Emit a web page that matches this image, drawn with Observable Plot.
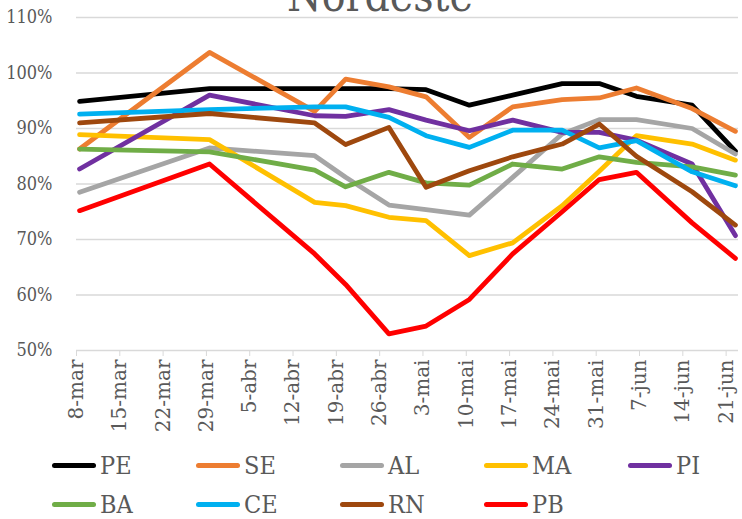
<!DOCTYPE html>
<html><head><meta charset="utf-8">
<script src="https://cdn.jsdelivr.net/npm/d3@7"></script>
<script src="https://cdn.jsdelivr.net/npm/@observablehq/plot@0.6"></script>
<style>
body{margin:0;background:#fff;}
#wrap{position:relative;width:742px;height:519px;overflow:hidden;font-family:"DejaVu Serif Condensed","DejaVu Serif",serif;color:#595959;}
#chart{position:absolute;left:0;top:0;}
#titlesvg{position:absolute;left:0;top:0;}
#legend{position:absolute;left:0;top:446px;width:742px;}
.item{position:absolute;display:flex;align-items:center;height:38px;font-size:25px;color:#595959;}
.sw{width:44px;height:5px;border-radius:3px;margin-right:4px;}
</style></head>
<body>
<div id="wrap">
  <div id="chart"></div>
  <svg id="titlesvg" width="742" height="30"><text x="380" y="11" text-anchor="middle" font-size="44" fill="#595959" font-family="DejaVu Serif Condensed, DejaVu Serif, serif">Nordeste</text></svg>
  <div id="legend"></div>
</div>
<script>
// ---- data ----
const dates = ["2020-03-08","2020-03-29","2020-04-15","2020-04-20","2020-04-27","2020-05-03","2020-05-10","2020-05-17","2020-05-25","2020-05-31","2020-06-06","2020-06-15","2020-06-22"];
const PE = [94.9, 97.2, 97.2, 97.2, 97.2, 97.0, 94.2, 96.0, 98.1, 98.1, 95.8, 94.2, 85.9];
const SE = [86.3, 103.7, 93.1, 98.9, 97.5, 95.7, 88.4, 93.9, 95.2, 95.5, 97.3, 93.6, 89.5];
const AL = [78.5, 86.5, 85.1, 81.2, 76.2, 75.4, 74.4, 81.2, 89.0, 91.6, 91.6, 90.0, 85.4];
const MA = [88.9, 88.0, 76.7, 76.1, 74.0, 73.4, 67.1, 69.4, 76.1, 82.3, 88.7, 87.2, 84.3];
const PI = [82.7, 96.0, 92.3, 92.2, 93.4, 91.5, 89.6, 91.5, 89.3, 89.3, 87.9, 83.6, 70.7];
const BA = [86.3, 85.8, 82.5, 79.5, 82.1, 80.2, 79.8, 83.6, 82.7, 84.9, 83.9, 83.1, 81.6];
const CE = [92.6, 93.4, 93.9, 93.9, 92.0, 88.7, 86.6, 89.7, 89.7, 86.5, 87.8, 82.2, 79.7];
const RN = [91.0, 92.7, 91.0, 87.1, 90.2, 79.4, 82.4, 84.9, 87.2, 90.8, 85.0, 78.6, 72.6];
const PB = [75.2, 83.6, 67.4, 61.9, 53.0, 54.4, 59.2, 67.4, 75.0, 80.8, 82.1, 73.0, 66.6];
const seriesNames = ["PE","SE","AL","MA","PI","BA","CE","RN","PB"];
const seriesValues = [PE, SE, AL, MA, PI, BA, CE, RN, PB];
const seriesColors = ["#000000","#ED7D31","#A5A5A5","#FFC000","#7030A0","#70AD47","#00B0F0","#9E480E","#FF0000"];
const tickDates = ["2020-03-08","2020-03-15","2020-03-22","2020-03-29","2020-04-05","2020-04-12","2020-04-19","2020-04-26","2020-05-03","2020-05-10","2020-05-17","2020-05-24","2020-05-31","2020-06-07","2020-06-14","2020-06-21"];
const tickLabels = ["8-mar","15-mar","22-mar","29-mar","5-abr","12-abr","19-abr","26-abr","3-mai","10-mai","17-mai","24-mai","31-mai","7-jun","14-jun","21-jun"];
const yTicks = [50, 60, 70, 80, 90, 100, 110];

// ---- build table ----
const table = [];
seriesNames.forEach((s, i) => {
  dates.forEach((d, j) => {
    table.push({series: s, date: new Date(d + "T12:00:00Z"), value: seriesValues[i][j]});
  });
});
const tickObjs = tickDates.map(d => new Date(d + "T00:00:00Z"));
const labelOf = new Map(tickObjs.map((t, i) => [+t, tickLabels[i]]));

const chart = Plot.plot({
  width: 742,
  height: 446,
  marginLeft: 76,
  marginRight: 4,
  marginTop: 17,
  marginBottom: 96,
  style: {fontFamily: '"DejaVu Serif Condensed","DejaVu Serif",serif', color: "#595959", background: "#fff"},
  x: {type: "utc", domain: [new Date("2020-03-08T00:00:00Z"), new Date("2020-06-23T00:00:00Z")], label: null},
  y: {domain: [50, 110], label: null},
  color: {domain: seriesNames, range: seriesColors},
  marks: [
    Plot.ruleY(yTicks, {stroke: "#d9d9d9", strokeWidth: 1.5}),
    Plot.axisY({ticks: yTicks, tickFormat: d => d + "%", tickSize: 0, tickPadding: 24, fontSize: 18, fill: "#595959", label: null}),
    Plot.axisX({ticks: tickObjs, tickFormat: d => labelOf.get(+d), tickRotate: -90, tickSize: 6, tickPadding: 3, fontSize: 20, stroke: "#d9d9d9", fill: "#595959", fontFamily: '"DejaVu Serif", serif', label: null}),
    Plot.line(table, {x: "date", y: "value", z: "series", stroke: "series", strokeWidth: 4.8, strokeLinejoin: "round", strokeLinecap: "round"})
  ]
});
document.getElementById("chart").appendChild(chart);

// ---- legend ----
const legend = document.getElementById("legend");
const colX = [52, 196, 340, 484, 628];
seriesNames.forEach((s, i) => {
  const row = Math.floor(i / 5), col = i % 5;
  const el = document.createElement("div");
  el.className = "item";
  el.style.left = colX[col] + "px";
  el.style.top = (row * 39) + "px";
  const sw = document.createElement("div");
  sw.className = "sw";
  sw.style.background = seriesColors[i];
  const tx = document.createElement("span");
  tx.textContent = s;
  el.appendChild(sw); el.appendChild(tx);
  legend.appendChild(el);
});
</script>
</body></html>
